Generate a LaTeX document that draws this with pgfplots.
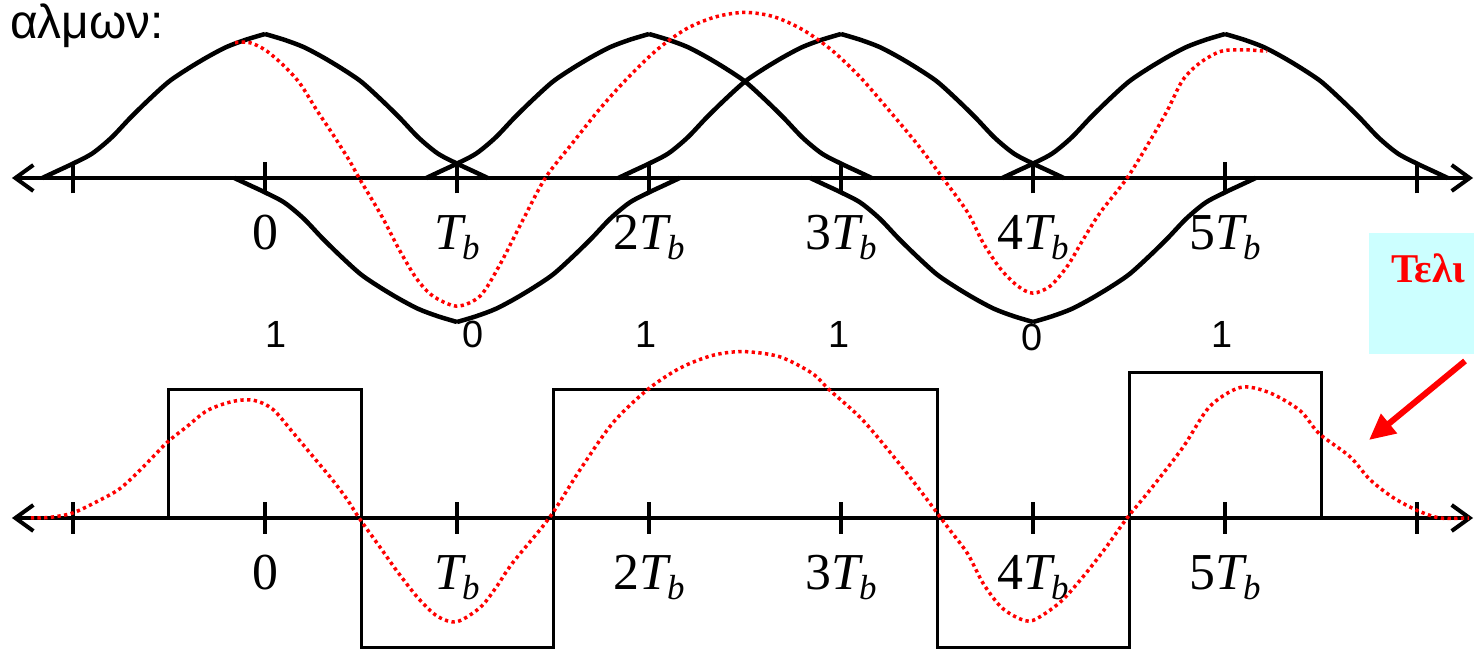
\documentclass[border=0pt]{standalone}
\usepackage{fontspec}
\setmainfont{Liberation Serif}
\newfontfamily\sansgr{Liberation Sans}
\usepackage{pgfplots}
\pgfplotsset{compat=1.18}
\usetikzlibrary{arrows.meta}

\definecolor{boxcyan}{HTML}{CCFFFF}

% bit period symbol T_b
\newcommand\Tb{\textit{T}\kern-4bp\raisebox{-10bp}{\fontsize{35}{35}\selectfont\textit{b}}}

\pgfplotsset{
  timeaxis/.style={
    x=192bp, enlargelimits=false, clip=false,
    xmin=-1.318, xmax=6.292,
    axis x line*=middle, axis y line=none, ytick=\empty,
    x axis line style={line width=4bp,
      {Straight Barb[length=18bp,width=26bp]}-{Straight Barb[length=18bp,width=26bp]}},
    xtick={-1,0,1,2,3,4,5,6},
    xticklabels={{},0,\Tb,2\Tb,3\Tb,4\Tb,5\Tb,{}},
    tick align=center, major tick length=31bp,
    tick style={black, line width=3.5bp},
    xticklabel style={anchor=base, yshift=-56bp, font=\fontsize{52}{52}\selectfont},
    anchor=south west,
  },
  pulse/.style={black, line width=4.5bp, smooth, line join=round},
  sumsig/.style={red, line width=3.5bp, smooth, dash pattern=on 3.3bp off 3.4bp},
  nrz/.style={black, line width=3bp, sharp plot, line join=miter},
}

\begin{document}
\begin{tikzpicture}
\path[use as bounding box] (0,0) rectangle (1474bp,649bp);
\clip (0,0) rectangle (1474bp,649bp);

% ---- upper panel: shaped pulses for the bits 1 0 1 1 0 1 ----
\begin{axis}[timeaxis, y=144bp, ymin=-1.3, ymax=1.3, at={(11.94bp,283.8bp)}]
% pulse at 0 (+)
\addplot[pulse] coordinates {(-1.16,0) (-1.08,0.05) (-1.0,0.10) (-0.9,0.17) (-0.8,0.28) (-0.7,0.42) (-0.6,0.55) (-0.5,0.67) (-0.4,0.76) (-0.3,0.84) (-0.2,0.91) (-0.1,0.96) (0,1)};
\addplot[pulse] coordinates {(0,1) (0.1,0.96) (0.2,0.91) (0.3,0.84) (0.4,0.76) (0.5,0.67) (0.6,0.55) (0.7,0.42) (0.8,0.28) (0.9,0.17) (1.0,0.10) (1.08,0.05) (1.16,0)};
% pulse at Tb (-)
\addplot[pulse] coordinates {(-0.16,0) (-0.08,-0.05) (0,-0.10) (0.1,-0.17) (0.2,-0.28) (0.3,-0.42) (0.4,-0.55) (0.5,-0.67) (0.6,-0.76) (0.7,-0.84) (0.8,-0.91) (0.9,-0.96) (1,-1)};
\addplot[pulse] coordinates {(1,-1) (1.1,-0.96) (1.2,-0.91) (1.3,-0.84) (1.4,-0.76) (1.5,-0.67) (1.6,-0.55) (1.7,-0.42) (1.8,-0.28) (1.9,-0.17) (2.0,-0.10) (2.08,-0.05) (2.16,0)};
% pulse at 2Tb (+)
\addplot[pulse] coordinates {(0.84,0) (0.92,0.05) (1.0,0.10) (1.1,0.17) (1.2,0.28) (1.3,0.42) (1.4,0.55) (1.5,0.67) (1.6,0.76) (1.7,0.84) (1.8,0.91) (1.9,0.96) (2,1)};
\addplot[pulse] coordinates {(2,1) (2.1,0.96) (2.2,0.91) (2.3,0.84) (2.4,0.76) (2.5,0.67) (2.6,0.55) (2.7,0.42) (2.8,0.28) (2.9,0.17) (3.0,0.10) (3.08,0.05) (3.16,0)};
% pulse at 3Tb (+)
\addplot[pulse] coordinates {(1.84,0) (1.92,0.05) (2.0,0.10) (2.1,0.17) (2.2,0.28) (2.3,0.42) (2.4,0.55) (2.5,0.67) (2.6,0.76) (2.7,0.84) (2.8,0.91) (2.9,0.96) (3,1)};
\addplot[pulse] coordinates {(3,1) (3.1,0.96) (3.2,0.91) (3.3,0.84) (3.4,0.76) (3.5,0.67) (3.6,0.55) (3.7,0.42) (3.8,0.28) (3.9,0.17) (4.0,0.10) (4.08,0.05) (4.16,0)};
% pulse at 4Tb (-)
\addplot[pulse] coordinates {(2.84,0) (2.92,-0.05) (3.0,-0.10) (3.1,-0.17) (3.2,-0.28) (3.3,-0.42) (3.4,-0.55) (3.5,-0.67) (3.6,-0.76) (3.7,-0.84) (3.8,-0.91) (3.9,-0.96) (4,-1)};
\addplot[pulse] coordinates {(4,-1) (4.1,-0.96) (4.2,-0.91) (4.3,-0.84) (4.4,-0.76) (4.5,-0.67) (4.6,-0.55) (4.7,-0.42) (4.8,-0.28) (4.9,-0.17) (5.0,-0.10) (5.08,-0.05) (5.16,0)};
% pulse at 5Tb (+)
\addplot[pulse] coordinates {(3.84,0) (3.92,0.05) (4.0,0.10) (4.1,0.17) (4.2,0.28) (4.3,0.42) (4.4,0.55) (4.5,0.67) (4.6,0.76) (4.7,0.84) (4.8,0.91) (4.9,0.96) (5,1)};
\addplot[pulse] coordinates {(5,1) (5.1,0.96) (5.2,0.91) (5.3,0.84) (5.4,0.76) (5.5,0.67) (5.6,0.55) (5.7,0.42) (5.8,0.28) (5.9,0.17) (6.0,0.10) (6.08,0.05) (6.16,0)};
% sum of the pulses
\addplot[sumsig] coordinates {(-0.156,0.94) (-0.08,0.94) (0.0,0.89) (0.09,0.79) (0.18,0.66) (0.27,0.47) (0.35,0.31) (0.44,0.12) (0.49,0) (0.61,-0.27) (0.70,-0.50) (0.79,-0.70) (0.875,-0.82) (1.0,-0.89) (1.12,-0.82) (1.22,-0.61) (1.34,-0.30) (1.46,0) (1.6,0.24) (1.75,0.49) (1.9,0.71) (2.05,0.90) (2.2,1.04) (2.35,1.12) (2.5,1.15) (2.65,1.12) (2.8,1.03) (2.95,0.89) (3.1,0.70) (3.25,0.47) (3.4,0.23) (3.53,0) (3.66,-0.24) (3.74,-0.45) (3.83,-0.63) (3.92,-0.75) (4.0,-0.80) (4.09,-0.75) (4.18,-0.61) (4.26,-0.43) (4.35,-0.24) (4.49,0) (4.61,0.26) (4.70,0.47) (4.78,0.68) (4.87,0.80) (4.98,0.88) (5.1,0.89) (5.22,0.88)};
\end{axis}

% ---- lower panel: NRZ waveform and its filtered version ----
\begin{axis}[timeaxis, y=128bp, ymin=-1.1, ymax=1.4, at={(11.94bp,-9.8bp)}]
\addplot[nrz] coordinates {(-0.5,0) (-0.5,1) (0.5,1) (0.5,-1.01) (1.5,-1.01) (1.5,1) (3.5,1) (3.5,-1.01) (4.5,-1.01) (4.5,1.14) (5.5,1.14) (5.5,0)};
\addplot[sumsig] coordinates {(-1.22,0) (-1.12,0.005) (-1.0,0.04) (-0.86,0.14) (-0.755,0.23) (-0.65,0.375) (-0.51,0.59) (-0.41,0.71) (-0.30,0.84) (-0.17,0.91) (-0.06,0.92) (0.04,0.85) (0.15,0.66) (0.25,0.48) (0.35,0.30) (0.43,0.14) (0.49,0) (0.60,-0.23) (0.69,-0.42) (0.80,-0.63) (0.90,-0.77) (1.0,-0.81) (1.12,-0.70) (1.2,-0.55) (1.29,-0.35) (1.48,0) (1.64,0.375) (1.81,0.74) (1.99,1.0) (2.16,1.17) (2.33,1.27) (2.49,1.30) (2.68,1.26) (2.85,1.13) (2.94,1.0) (3.11,0.77) (3.29,0.45) (3.41,0.22) (3.52,0) (3.57,-0.1) (3.66,-0.28) (3.74,-0.51) (3.83,-0.69) (3.92,-0.78) (4.0,-0.80) (4.14,-0.66) (4.26,-0.46) (4.38,-0.23) (4.49,0) (4.61,0.22) (4.78,0.55) (4.92,0.87) (5.08,1.02) (5.23,0.98) (5.39,0.84) (5.49,0.66) (5.65,0.48) (5.755,0.30) (5.875,0.16) (6.0,0.06) (6.12,0) (6.27,0)};
\end{axis}

% bit values
\begin{scope}[every node/.style={anchor=base, inner sep=0, font=\sansgr\fontsize{38}{38}\selectfont}]
\node at (276bp,301bp) {1};
\node at (473bp,301bp) {0};
\node at (646bp,301bp) {1};
\node at (839bp,301bp) {1};
\node at (1032bp,298bp) {0};
\node at (1222bp,301bp) {1};
\end{scope}

% heading
\node[anchor=base east, inner sep=0, font=\sansgr\fontsize{48}{48}\selectfont] at (164bp,610bp) {αλμων:};

% note box with arrow
\fill[boxcyan] (1369bp,295bp) rectangle (1480bp,416bp);
\node[anchor=base west, inner sep=0, text=red, font=\bfseries\fontsize{41}{41}\selectfont] at (1391bp,366bp) {Τελι};
\draw[red, line width=6bp, -{Triangle[length=26bp,width=24bp]}] (1465bp,288bp) -- (1369bp,209bp);
\end{tikzpicture}
\end{document}
